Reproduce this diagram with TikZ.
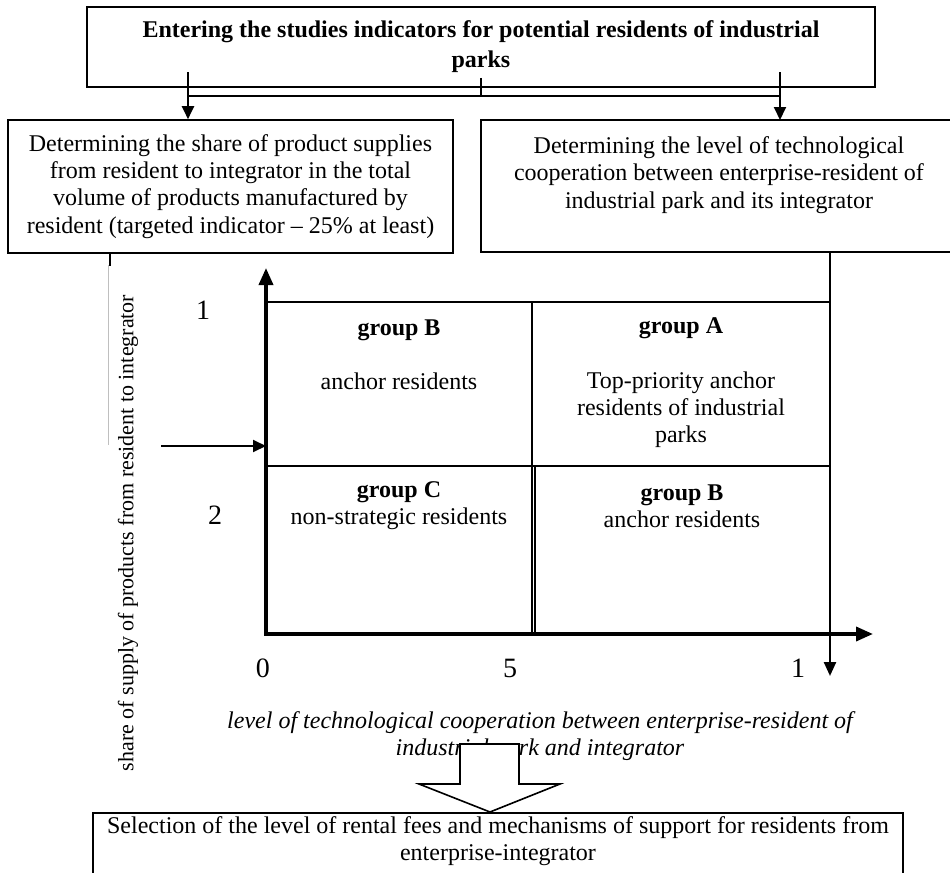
\documentclass[tikz,border=0pt]{standalone}
\usepackage{fontspec}
\setmainfont{Liberation Serif}
\usetikzlibrary{arrows.meta,calc}

\begin{document}
\begin{tikzpicture}[x=0.5pt,y=-0.5pt,
    box/.style={draw,line width=0.8pt,align=center,inner sep=2pt,font=\fontsize{12}{13.6}\selectfont},
    txt/.style={align=center,inner sep=0pt,font=\fontsize{12}{13.6}\selectfont},
    num/.style={inner sep=0pt,font=\fontsize{14}{16}\selectfont},
    conn/.style={line width=1pt},
    arr/.style={line width=1pt,-{Triangle[length=6.5pt,width=6pt]}},
    axis/.style={line width=1.8pt,{Triangle[length=8.5pt,width=7pt]}-{Triangle[length=8.5pt,width=7pt]}},
    cell/.style={line width=0.8pt}]
    \useasboundingbox (0,0) rectangle (950,873);

    % Draw the input box
    \node[box,font=\bfseries\fontsize{12}{15}\selectfont,minimum width=394pt,minimum height=40pt] (entry) at (481,47)
        {Entering the studies indicators for potential residents of industrial\\ parks};

    % Draw the two indicator boxes (the right one runs off the page)
    \node[box,minimum width=222.5pt,minimum height=66.5pt] (supply) at (230.5,186.5)
        {Determining the share of product supplies\\ from resident to integrator in the total\\ volume of products manufactured by\\ resident (targeted indicator -- 25\% at least)};
    \node[txt] (coop) at (719,186)
        {Determining the level of technological\\ cooperation between enterprise-resident of\\ industrial park and its integrator\\ ~};
    \coordinate (coopNW) at (481,120);
    \coordinate (coopSE) at (950,252);
    \draw[line width=0.8pt] (coopSE |- coopNW) -- (coopNW) -- (coopNW |- coopSE) -- (coopSE);

    % Split the input into both boxes
    \coordinate (hub) at (481,96);
    \coordinate (hubL) at (188,96);
    \coordinate (hubR) at (780,96);
    \draw[conn] (entry.south) ++(0,-10) -- (hub);
    \draw[conn] (hubL) -- (hubR);
    \draw[arr] (hubL) ++(0,-24) -- (hubL |- supply.north);
    \draw[arr] (hubR) ++(0,-24) -- (hubR |- coopNW);

    % Draw the matrix cells
    \coordinate (O) at (266,634);
    \coordinate (rend) at (830,676);
    \draw[cell] (268,302) -- (830,302);
    \draw[cell] (266,466) -- (830,466);
    \draw[cell] (532,302) -- (532,634);
    \draw[cell] (535,466) -- (535,634);

    % Draw the axes
    \draw[axis] (266,268) -- (O) -- (873,634);
    \draw[line width=1.2pt,-{Triangle[length=7pt,width=6pt]}] (rend |- coopSE) -- (rend);
    \coordinate (lin) at (161,446);
    \draw[arr] (lin) -- (lin -| O);
    \draw[line width=1pt] (supply.south -| 110,0) -- ++(0,12);
    \draw[black!25,line width=0.5pt] (108,265) -- (108,445);

    % Label the cells
    \node[txt] (gUL) at (399,355) {\textbf{group B}\\[13.6pt] anchor residents};
    \node[txt] (gUR) at (681,383) {\textbf{group A}\\[13.6pt] Top-priority anchor\\ residents of industrial\\ parks};
    \node[txt] (gLL) at (399,506) {\textbf{group C}\\ non-strategic residents};
    \node[txt] (gLR) at (682,506) {\textbf{group B}\\ anchor residents};

    % Label the axes
    \node[num] (y1) at (203,310) {1};
    \node[num] (y2) at (215,515) {2};
    \node[num] (x0) at (263,668) {0};
    \node[num] (x5) at (510,668) {5};
    \node[num] (x1) at (798,668) {1};
    \node[txt,rotate=90,font=\fontsize{11}{13}\selectfont] (ylab) at (128,533) {share of supply of products from resident to integrator};
    \node[txt,font=\itshape\fontsize{12}{13.6}\selectfont] (xlab) at (540,736)
        {level of technological cooperation between enterprise-resident of\\ industrial park and integrator};

    % Draw the result box and the block arrow
    \node[box,anchor=north,minimum width=405pt] (sel) at (498,812)
        {Selection of the level of rental fees and mechanisms of support for residents from\\ enterprise-integrator\\ ~};
    \coordinate (tip) at (sel.north -| 490,0);
    \draw[fill=white,line width=0.8pt] (tip) -- ++(-71,-28) -- ++(41,0) -- ++(0,-40) -- ++(59,0) -- ++(0,40) -- ++(41,0) -- cycle;
\end{tikzpicture}
\end{document}
